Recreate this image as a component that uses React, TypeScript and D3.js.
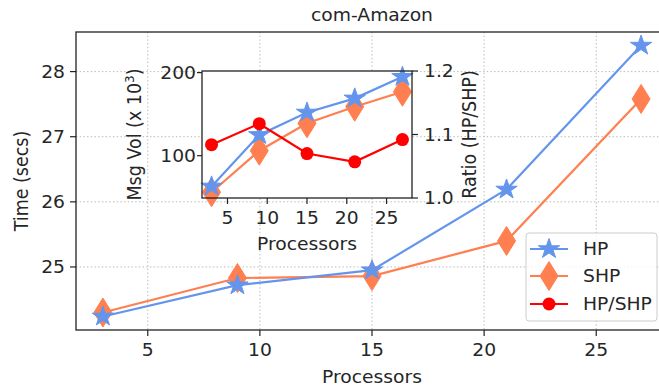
import React from 'react';
import * as d3 from 'd3';

const processors = [3, 9, 15, 21, 27];
const hpTime = [24.24, 24.72, 24.95, 26.19, 28.4];
const shpTime = [24.3, 24.83, 24.86, 25.4, 27.58];
const hpMsg = [63, 125, 152, 169, 195];
const shpMsg = [56, 106, 139, 159, 177];
const ratio = [1.084, 1.117, 1.07, 1.057, 1.092];
const xTicks = [5, 10, 15, 20, 25];
const yTicks = [25, 26, 27, 28];
const msgTicks = [100, 200];
const ratioTicks = [1.0, 1.1, 1.2];
const seriesNames = ['HP', 'SHP', 'HP/SHP'];

const W = 659;
const H = 390;
const FONT = "'DejaVu Sans', sans-serif";
const FS = 17.5;
const SX = 1.07;
const HP_C = '#6495ED';
const SHP_C = '#FF7F50';
const R_C = '#FF0000';
const GRID = '#b8b8b8';
const TXT = '#262626';

function starPath(cx: number, cy: number, R: number) {
  const r = R * 0.381966;
  const pts: string[] = [];
  for (let i = 0; i < 10; i++) {
    const a = -Math.PI / 2 + (i * Math.PI) / 5;
    const rr = i % 2 === 0 ? R : r;
    pts.push(`${cx + rr * Math.cos(a) * SX},${cy + rr * Math.sin(a)}`);
  }
  return 'M' + pts.join('L') + 'Z';
}
function diamondPath(cx: number, cy: number, hw: number, hh: number) {
  return `M${cx},${cy - hh}L${cx + hw},${cy}L${cx},${cy + hh}L${cx - hw},${cy}Z`;
}

function pad(ext: [number, number], f = 0.05): [number, number] {
  const p = (ext[1] - ext[0]) * f;
  return [ext[0] - p, ext[1] + p];
}

type TProps = {
  x: number;
  y: number;
  anchor?: 'start' | 'middle' | 'end';
  rotate?: boolean;
  dy?: string;
  size?: number;
  children: React.ReactNode;
};
function T({ x, y, anchor = 'start', rotate = false, dy, size = FS, children }: TProps) {
  return (
    <text
      transform={`translate(${x},${y}) scale(${SX},1)${rotate ? ' rotate(-90)' : ''}`}
      x={0}
      y={0}
      dy={dy}
      textAnchor={anchor}
      fontFamily={FONT}
      fontSize={size}
      fill={TXT}
    >
      {children}
    </text>
  );
}

export default function App() {
  // main axes
  const mL = 76, mR = 668, mT = 32, mB = 330;
  const x = d3.scaleLinear().domain(pad([3, 27])).range([mL, mR]);
  const yExt = d3.extent([...hpTime, ...shpTime]) as [number, number];
  const y = d3.scaleLinear().domain(pad(yExt)).range([mB, mT]);

  // inset
  const iL = 202, iR = 412, iT = 71, iB = 198;
  const ix = d3.scaleLinear().domain(pad([3, 27])).range([iL, iR]);
  const mExt = d3.extent([...hpMsg, ...shpMsg]) as [number, number];
  const iy = d3.scaleLinear().domain(pad(mExt)).range([iB, iT]);
  const iy2 = d3.scaleLinear().domain([1.0, 1.2]).range([iB, iT]);

  const line = (xs: d3.ScaleLinear<number, number>, ys: d3.ScaleLinear<number, number>, vals: number[]) =>
    d3.line<number>().x((_, i) => xs(processors[i])).y((d) => ys(d))(vals) || '';

  const TL = 6;
  const STAR_R = 10.5;
  const DW = 9, DH = 14.5;
  const CR = 6.5;
  const LW = 2.2;

  const legX = 526, legY = 233, legW = 131, legH = 88;
  const legRows = [249, 276, 304];
  const legColors = [HP_C, SHP_C, R_C];

  return (
    <svg width={W} height={H} style={{ position: 'absolute', left: 0, top: 0, background: '#fff' }}>
      <rect x={0} y={0} width={W} height={H} fill="#fff" />
      {/* main grid */}
      <g stroke={GRID} strokeWidth={1} strokeDasharray="1.4,2.3">
        {xTicks.map((t) => (
          <line key={'gx' + t} x1={x(t)} x2={x(t)} y1={mT} y2={mB} />
        ))}
        {yTicks.map((t) => (
          <line key={'gy' + t} x1={mL} x2={mR} y1={y(t)} y2={y(t)} />
        ))}
      </g>
      {/* main lines */}
      <path d={line(x, y, shpTime)} fill="none" stroke={SHP_C} strokeWidth={LW} />
      {shpTime.map((v, i) => (
        <path key={'sd' + i} d={diamondPath(x(processors[i]), y(v), DW, DH)} fill={SHP_C} stroke={SHP_C} strokeWidth={1} />
      ))}
      <path d={line(x, y, hpTime)} fill="none" stroke={HP_C} strokeWidth={LW} />
      {hpTime.map((v, i) => (
        <path key={'hs' + i} d={starPath(x(processors[i]), y(v), STAR_R)} fill={HP_C} stroke={HP_C} strokeWidth={1} />
      ))}
      {/* main spines */}
      <rect x={mL} y={mT} width={mR - mL} height={mB - mT} fill="none" stroke="#222" strokeWidth={1.3} />
      {/* main ticks */}
      {xTicks.map((t) => (
        <g key={'xt' + t}>
          <line x1={x(t)} x2={x(t)} y1={mB} y2={mB + TL} stroke="#222" strokeWidth={1.2} />
          <T x={x(t)} y={mB + TL + 20} anchor="middle">{t}</T>
        </g>
      ))}
      {yTicks.map((t) => (
        <g key={'yt' + t}>
          <line x1={mL - TL} x2={mL} y1={y(t)} y2={y(t)} stroke="#222" strokeWidth={1.2} />
          <T x={mL - TL - 5} y={y(t)} dy="0.36em" anchor="end">{t}</T>
        </g>
      ))}
      <T x={(mL + mR) / 2} y={21} anchor="middle">com-Amazon</T>
      <T x={(mL + mR) / 2} y={383} anchor="middle">Processors</T>
      <T x={28} y={(mT + mB) / 2} anchor="middle" rotate>Time (secs)</T>

      {/* inset */}
      <rect x={iL} y={iT} width={iR - iL} height={iB - iT} fill="#fff" />
      <path d={line(ix, iy, shpMsg)} fill="none" stroke={SHP_C} strokeWidth={LW} />
      {shpMsg.map((v, i) => (
        <path key={'isd' + i} d={diamondPath(ix(processors[i]), iy(v), DW, DH)} fill={SHP_C} stroke={SHP_C} strokeWidth={1} />
      ))}
      <path d={line(ix, iy, hpMsg)} fill="none" stroke={HP_C} strokeWidth={LW} />
      {hpMsg.map((v, i) => (
        <path key={'ihs' + i} d={starPath(ix(processors[i]), iy(v), STAR_R)} fill={HP_C} stroke={HP_C} strokeWidth={1} />
      ))}
      <path d={line(ix, iy2, ratio)} fill="none" stroke={R_C} strokeWidth={LW} />
      {ratio.map((v, i) => (
        <circle key={'ir' + i} cx={ix(processors[i])} cy={iy2(v)} r={CR} fill={R_C} />
      ))}
      <rect x={iL} y={iT} width={iR - iL} height={iB - iT} fill="none" stroke="#222" strokeWidth={1.3} />
      {xTicks.map((t) => (
        <g key={'ixt' + t}>
          <line x1={ix(t)} x2={ix(t)} y1={iB} y2={iB + TL} stroke="#222" strokeWidth={1.2} />
          <T x={ix(t)} y={iB + TL + 20} anchor="middle">{t}</T>
        </g>
      ))}
      {msgTicks.map((t) => (
        <g key={'iyt' + t}>
          <line x1={iL - 5} x2={iL} y1={iy(t)} y2={iy(t)} stroke="#222" strokeWidth={1.2} />
          <T x={iL - 6} y={iy(t)} dy="0.36em" anchor="end">{t}</T>
        </g>
      ))}
      {ratioTicks.map((t) => (
        <g key={'iy2t' + t}>
          <line x1={iR} x2={iR + TL} y1={iy2(t)} y2={iy2(t)} stroke="#222" strokeWidth={1.2} />
          <T x={iR + TL + 6} y={iy2(t)} dy="0.36em">{t.toFixed(1)}</T>
        </g>
      ))}
      <T x={(iL + iR) / 2} y={250} anchor="middle">Processors</T>
      <T x={141} y={(iT + iB) / 2} anchor="middle" rotate>
        Msg Vol (x 10<tspan baselineShift="super" fontSize={12}>3</tspan>)
      </T>
      <T x={476} y={(iT + iB) / 2} anchor="middle" rotate>Ratio (HP/SHP)</T>

      {/* legend */}
      <rect x={legX} y={legY} width={legW} height={legH} rx={3} fill="#fff" fillOpacity={0.8} stroke="#cccccc" strokeWidth={1} />
      {seriesNames.map((n, i) => {
        const cy = legRows[i];
        const col = legColors[i];
        const cx = 549;
        return (
          <g key={'leg' + n}>
            <line x1={530} x2={568} y1={cy} y2={cy} stroke={col} strokeWidth={LW} />
            {i === 0 && <path d={starPath(cx, cy, STAR_R)} fill={col} stroke={col} />}
            {i === 1 && <path d={diamondPath(cx, cy, DW, DH)} fill={col} stroke={col} />}
            {i === 2 && <circle cx={cx} cy={cy} r={CR} fill={col} />}
            <T x={583} y={cy} dy="0.36em">{n}</T>
          </g>
        );
      })}
    </svg>
  );
}
